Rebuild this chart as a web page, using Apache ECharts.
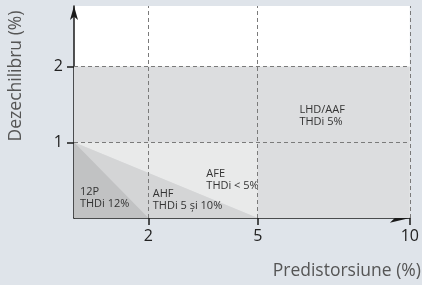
<!DOCTYPE html>
<html>
<head>
<meta charset="utf-8">
<script src="https://cdn.jsdelivr.net/npm/echarts@6/dist/echarts.min.js"></script>
<style>
  html, body { margin: 0; padding: 0; background: #dfe4ea; }
  #chart { width: 422px; height: 285px; }
</style>
</head>
<body>
<div id="chart"></div>
<script>
  // tick values (%)
  var xTicks = [2, 5, 10];
  var yTicks = [1, 2];

  // zones: name, THDi text, polygon vertices (predistorsiune %, dezechilibru %)
  var zoneNames = ['LHD/AAF', 'AFE', 'AHF', '12P'];
  var zoneThd = ['THDi 5%', 'THDi < 5%', 'THDi 5 și 10%', 'THDi 12%'];
  var zoneX = [[0, 10, 10, 0], [0, 5, 5], [0, 5, 0], [0, 2, 0]];
  var zoneY = [[0, 0, 2, 2], [1, 1, 0], [1, 0, 0], [1, 0, 0]];

  // look
  var zoneColors = ['#dcdddf', '#e9eaea', '#d4d5d6', '#c1c2c3'];
  // where each zone's text starts (data units)
  var labelAnchor = [[6.37, 1.51], [3.59, 0.66], [2.12, 0.4], [0.16, 0.42]];

  // the drawing squeezes the 5..10 part of the x axis
  var breaksReal = [0, 2, 5, 10];
  var breaksAxis = [0, 2, 4.94, 9.03];
  function warp(v) {
    for (var i = 1; i < breaksReal.length; i++) {
      if (v <= breaksReal[i]) {
        var t = (v - breaksReal[i - 1]) / (breaksReal[i] - breaksReal[i - 1]);
        return breaksAxis[i - 1] + t * (breaksAxis[i] - breaksAxis[i - 1]);
      }
    }
    return breaksAxis[breaksAxis.length - 1];
  }
  function unwarp(a) {
    for (var i = 1; i < breaksAxis.length; i++) {
      if (a <= breaksAxis[i] + 1e-9) {
        var t = (a - breaksAxis[i - 1]) / (breaksAxis[i] - breaksAxis[i - 1]);
        return breaksReal[i - 1] + t * (breaksReal[i] - breaksReal[i - 1]);
      }
    }
    return breaksReal[breaksReal.length - 1];
  }

  var font = '"Open Sans", "Noto Sans", sans-serif';
  var xTickAxis = xTicks.map(warp);

  var chart = echarts.init(document.getElementById('chart'), null, { renderer: 'canvas' });

  var option = {
    backgroundColor: '#dfe4ea',
    animation: false,
    grid: {
      left: 74, right: 8, top: 6, bottom: 67,
      show: true, backgroundColor: '#ffffff', borderWidth: 0
    },
    xAxis: {
      type: 'value',
      min: 0,
      max: warp(10),
      axisLine: {
        show: true,
        symbol: ['none', 'arrow'],
        symbolSize: [7, 20],
        lineStyle: { color: '#1a1a1a', width: 1.5 }
      },
      axisTick: {
        show: true, length: 7, customValues: xTickAxis,
        lineStyle: { color: '#1a1a1a', width: 1.5 }
      },
      axisLabel: {
        customValues: xTickAxis,
        margin: 10,
        fontSize: 16, fontFamily: font, color: '#222',
        formatter: function (v) { return String(Math.round(unwarp(v))); }
      },
      splitLine: { show: false }
    },
    yAxis: {
      type: 'value',
      min: 0,
      max: 2.8,
      axisLine: {
        show: true,
        symbol: ['none', 'arrow'],
        symbolSize: [6, 14],
        lineStyle: { color: '#1a1a1a', width: 1.5 }
      },
      axisTick: {
        show: true, length: 7, customValues: yTicks,
        lineStyle: { color: '#1a1a1a', width: 1.5 }
      },
      axisLabel: {
        customValues: yTicks,
        margin: 11,
        fontSize: 16, fontFamily: font, color: '#222'
      },
      splitLine: { show: false }
    },
    graphic: [
      {
        type: 'text', x: 16, y: 76, rotation: Math.PI / 2,
        style: {
          text: 'Dezechilibru (%)', fill: '#555', font: '17.5px ' + font,
          align: 'center', verticalAlign: 'middle'
        }
      },
      {
        type: 'text', x: 421, y: 271,
        style: {
          text: 'Predistorsiune (%)', fill: '#555', font: '17.5px ' + font,
          align: 'right', verticalAlign: 'middle'
        }
      }
    ],
    series: [
      {
        type: 'custom',
        z: 1,
        data: zoneNames.map(function (n, i) { return [i]; }),
        renderItem: function (params, api) {
          var i = api.value(0);
          var pts = zoneX[i].map(function (x, k) {
            return api.coord([warp(x), zoneY[i][k]]);
          });
          var a = api.coord([warp(labelAnchor[i][0]), labelAnchor[i][1]]);
          return {
            type: 'group',
            children: [
              { type: 'polygon', shape: { points: pts }, style: { fill: zoneColors[i] } },
              {
                type: 'text', x: a[0], y: a[1], z2: 10,
                style: {
                  text: zoneNames[i] + '\n' + zoneThd[i],
                  fill: '#333', font: '11px ' + font, lineHeight: 12,
                  align: 'left', verticalAlign: 'top'
                }
              }
            ]
          };
        }
      },
      {
        type: 'line',
        z: 3,
        data: [],
        markLine: {
          silent: true,
          symbol: 'none',
          label: { show: false },
          lineStyle: { color: '#7a7a7a', type: [4, 3], width: 1 },
          data: xTicks.map(function (v) { return { xAxis: warp(v) }; })
            .concat(yTicks.map(function (v) { return { yAxis: v }; }))
        }
      }
    ]
  };

  chart.setOption(option);
</script>
</body>
</html>
